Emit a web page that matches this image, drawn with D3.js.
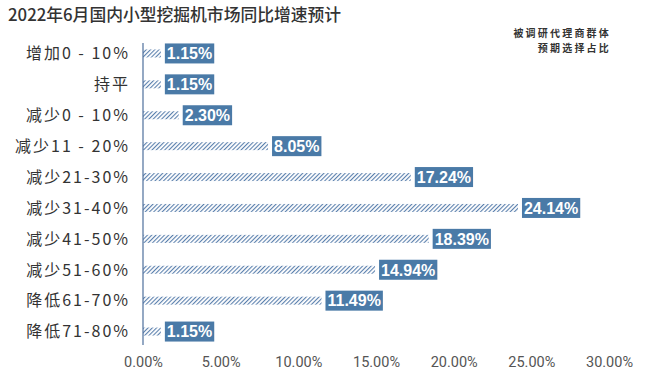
<!DOCTYPE html>
<html>
<head>
<meta charset="utf-8">
<script src="https://cdn.jsdelivr.net/npm/d3@7"></script>
<style>
    body { margin: 0; background: #fff; }
    svg { display: block; font-family: "Noto Sans CJK SC", "Noto Sans", sans-serif; }
</style>
</head>
<body>
<svg></svg>
<script>
const width = 653;
const height = 387;

// данные
const categories = ["增加0 - 10%", "持平", "减少0 - 10%", "减少11 - 20%", "减少21-30%",
    "减少31-40%", "减少41-50%", "减少51-60%", "降低61-70%", "降低71-80%"];
const values = [1.15, 1.15, 2.30, 8.05, 17.24, 24.14, 18.39, 14.94, 11.49, 1.15];
const ticks = [0, 5, 10, 15, 20, 25, 30];
const note = ["被调研代理商群体", "预期选择占比"];

const plotLeft = 143, plotRight = 609;
const plotTop = 38, plotBottom = 347;

let svg = d3.select("svg")
    .attr("width", width)
    .attr("height", height);

// штриховка
let defs = svg.append("defs");
defs.append("pattern")
    .attr("id", "hatch")
    .attr("patternUnits", "userSpaceOnUse")
    .attr("width", 3)
    .attr("height", 3)
    .attr("patternTransform", "rotate(45)")
    .append("rect")
    .attr("width", 1.1)
    .attr("height", 3)
    .attr("fill", "#5a80ad");

let scaleX = d3.scaleLinear().domain([0, 30]).range([plotLeft, plotRight]);
let scaleY = d3.scaleBand().domain(categories).range([plotTop, plotBottom]);

// заголовок
svg.append("text")
    .attr("x", 8).attr("y", 21)
    .style("font-size", "16.8px")
    .style("font-weight", "500")
    .attr("fill", "#333")
    .text("2022年6月国内小型挖掘机市场同比增速预计");

svg.append("g").selectAll("text")
    .data(note)
    .enter()
    .append("text")
    .attr("x", 611)
    .attr("y", (d, i) => 37 + i * 14.5)
    .attr("text-anchor", "end")
    .style("font-size", "10px").style("font-weight", "bold")
    .style("letter-spacing", "2.2px")
    .attr("fill", "#333")
    .text(d => d);

// ось X
let axisX = d3.axisBottom(scaleX)
    .tickValues(ticks)
    .tickSize(0)
    .tickPadding(0)
    .tickFormat(d => d.toFixed(2) + "%");
let gx = svg.append("g")
    .attr("transform", `translate(0, 367)`)
    .call(axisX);
gx.select(".domain").remove();
gx.selectAll("text")
    .attr("dy", 0)
    .style("font-size", "14.5px")
    .style("font-family", "Roboto, 'Noto Sans', sans-serif")
    .attr("fill", "#555");

// категории
svg.append("g").selectAll("text")
    .data(categories)
    .enter()
    .append("text")
    .attr("x", 130)
    .attr("y", d => scaleY(d) + scaleY.bandwidth() / 2)
    .attr("dy", "0.36em")
    .attr("text-anchor", "end")
    .style("font-size", "16px")
    .style("letter-spacing", "2px")
    .attr("fill", "#333")
    .text(d => d);

// бары
let rows = categories.map((c, i) => ({c: c, v: values[i]}));
svg.append("g").selectAll("rect")
    .data(rows)
    .enter()
    .append("rect")
    .attr("x", scaleX(0))
    .attr("y", d => scaleY(d.c) + scaleY.bandwidth() / 2 - 4)
    .attr("width", d => scaleX(d.v) - scaleX(0))
    .attr("height", 8)
    .attr("fill", "url(#hatch)");

svg.append("line")
    .attr("x1", plotLeft).attr("x2", plotLeft)
    .attr("y1", 43).attr("y2", 345)
    .attr("stroke", "#4d6f9c")
    .attr("stroke-width", 1.2);

// подписи
let labels = svg.append("g").selectAll("g")
    .data(rows)
    .enter()
    .append("g")
    .attr("transform", d => `translate(${scaleX(d.v) + 4}, ${scaleY(d.c) + scaleY.bandwidth() / 2})`);

labels.append("text")
    .attr("x", 2)
    .attr("dy", "0.36em")
    .style("font-family", "'Liberation Sans', Arial, sans-serif")
    .style("font-size", "16px")
    .style("font-weight", "bold")
    .attr("fill", "#fff")
    .text(d => d.v.toFixed(2) + "%");

labels.each(function () {
    let g = d3.select(this);
    let bb = g.select("text").node().getBBox();
    g.insert("rect", "text")
        .attr("x", 0)
        .attr("y", -10)
        .attr("width", bb.width + 4)
        .attr("height", 20)
        .attr("fill", "#4a7aa7");
});
</script>
</body>
</html>
